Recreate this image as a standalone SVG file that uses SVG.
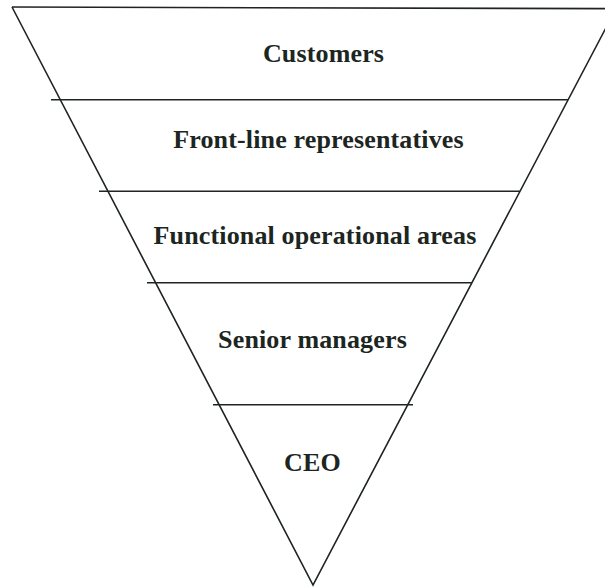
<svg xmlns="http://www.w3.org/2000/svg" width="605" height="587" viewBox="0 0 605 587">
  <style>
    .edge { fill: none; stroke: #1e2420; stroke-width: 1.6; stroke-linecap: butt; }
    .label { font-family: "Liberation Serif", "Times New Roman", serif; font-weight: bold; font-size: 26px; letter-spacing: 0.15px; fill: #1c261f; text-anchor: middle; }
  </style>
  <rect width="605" height="587" fill="#ffffff"/>

  <!-- inverted pyramid outline and tier dividers -->
  <g id="connectors">
    <path class="edge" d="M12,7 L616,8.7"/>
    <path class="edge" d="M12,7 L313,585 L616,8.7"/>
    <path class="edge" d="M51,99.8 L568,99.8"/>
    <path class="edge" d="M99,191.3 L520,191.3"/>
    <path class="edge" d="M147,282.8 L472,282.8"/>
    <path class="edge" d="M213,404.8 L413,404.8"/>
  </g>

  <g id="customers">
    <text class="label" x="323.5" y="62">Customers</text>
  </g>
  <g id="front-line">
    <text class="label" x="318.5" y="148">Front-line representatives</text>
  </g>
  <g id="functional-areas">
    <text class="label" x="315" y="244">Functional operational areas</text>
  </g>
  <g id="senior-managers">
    <text class="label" x="312.5" y="348">Senior managers</text>
  </g>
  <g id="ceo">
    <text class="label" x="312.5" y="471">CEO</text>
  </g>
</svg>
